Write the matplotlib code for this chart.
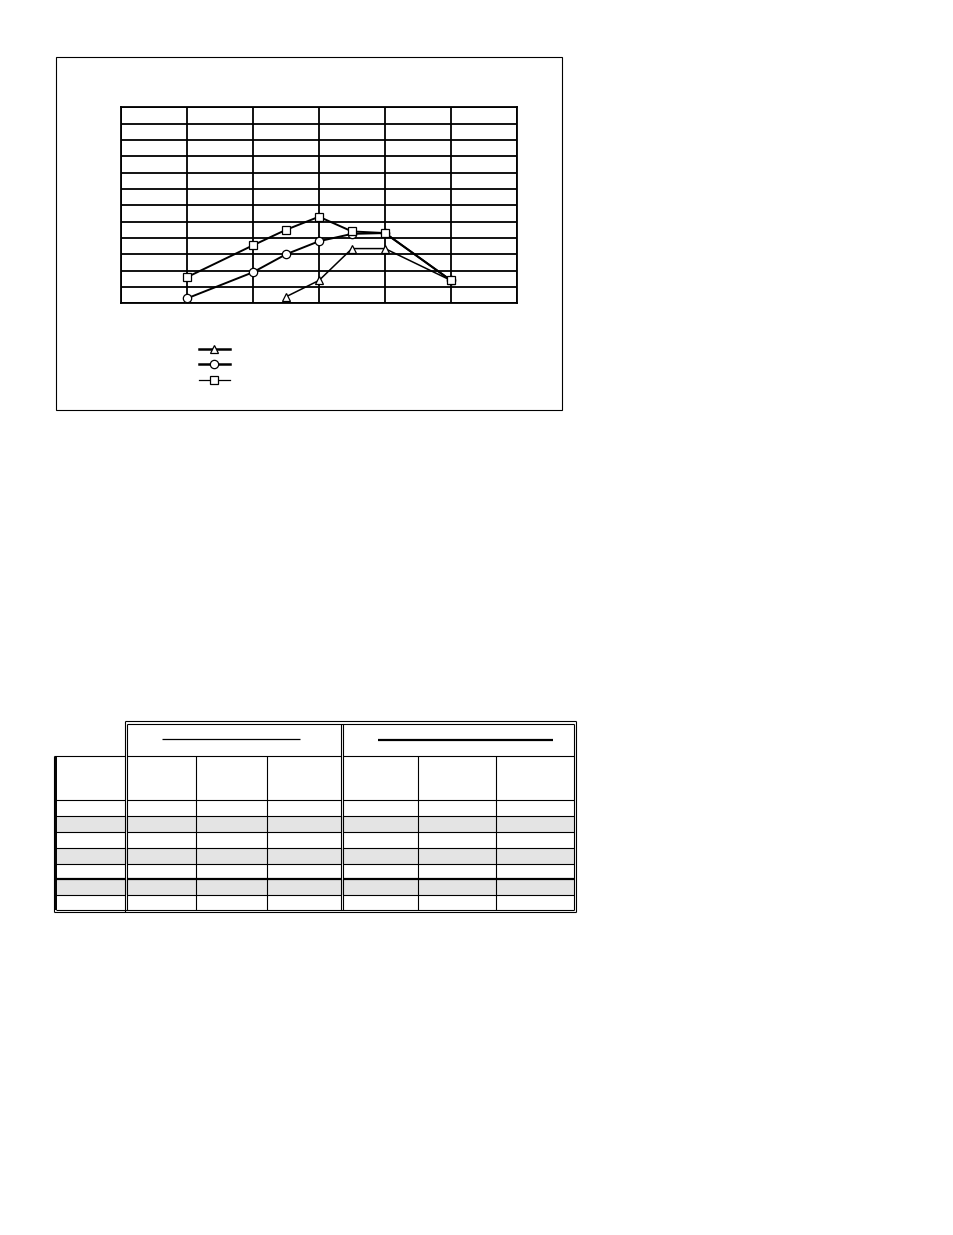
import numpy as np
import matplotlib
matplotlib.use('Agg')
from matplotlib import pyplot as plt
from matplotlib.lines import Line2D

# chart values (no labels in the reference)
x_sq = [1, 2, 2.5, 3, 3.5, 4, 5]
y_sq = [1.6, 3.55, 4.5, 5.3, 4.4, 4.3, 1.4]
x_ci = [1, 2, 2.5, 3, 3.5, 4, 5]
y_ci = [0.3, 1.9, 3.0, 3.8, 4.25, 4.3, 1.4]
x_tr = [2.5, 3, 3.5, 4, 5]
y_tr = [0.4, 1.4, 3.35, 3.35, 1.4]

W, H = 954, 1235
fig = plt.figure(figsize=(W / 100, H / 100), dpi=100)

# overlay in pixel coords for the boxes and the empty table
ov = fig.add_axes([0, 0, 1, 1])
ov.set_xlim(0, W)
ov.set_ylim(H, 0)
ov.axis('off')

def hl(y, x0, x1, lw=0.8):
  ov.plot([x0, x1], [y, y], color='black', lw=lw, solid_capstyle='butt')

def vl(x, y0, y1, lw=0.8):
  ov.plot([x, x], [y0, y1], color='black', lw=lw, solid_capstyle='butt')

# chart frame
ov.add_patch(plt.Rectangle((56.5, 56.5), 506, 353, fill=False, lw=0.8, ec='black'))

# ---- table ----
row_y = [800, 816, 831.5, 847.5, 863.5, 879, 895]
col_x = [196, 267.5, 418.5, 496]
shaded = [(816, 831.5), (847.5, 863.5), (879, 895)]

for y0, y1 in shaded:
  ov.add_patch(plt.Rectangle((57, y0), 517, y1 - y0, color='#e4e4e4', lw=0))

# double borders
hl(721, 125, 576.5)
hl(723.5, 127.5, 574.5)
hl(909.5, 56.5, 574.5)
hl(911.8, 54.5, 576.5)
vl(54.5, 755.5, 911.8)
vl(56.5, 755.5, 909.5, lw=1.4)
vl(125.3, 721, 911.8)
vl(127.5, 723.5, 909.5)
vl(341, 723.5, 909.5)
vl(343.2, 723.5, 909.5)
vl(574.5, 723.5, 909.5)
vl(576.5, 721, 911.8)

# header lines
hl(755.5, 54.5, 125.3)
hl(755.5, 127.5, 341)
hl(755.5, 343.2, 574.5)
hl(739.3, 161.7, 300, lw=0.9)
hl(739.5, 377.7, 553.3, lw=1.6)

for i, y in enumerate(row_y):
  lw = 1.6 if y == 879 else 0.8
  hl(y, 56.5, 125.3, lw)
  hl(y, 127.5, 341, lw)
  hl(y, 343.2, 574.5, lw)

for x in col_x:
  vl(x, 755.5, 909.5)

# ---- chart ----
ax = fig.add_axes([121 / W, 1 - 303.3 / H, 396 / W, 196 / H])
ax.set_xlim(0, 6)
ax.set_ylim(0, 12)
ax.set_xticks(range(7))
ax.set_yticks(range(13))
ax.tick_params(length=0, labelbottom=False, labelleft=False)
ax.grid(True, color='black', lw=1.3)
for s in ax.spines.values():
  s.set_linewidth(1.3)

mk = dict(color='black', mfc='white', mec='black', mew=0.9, ms=6, clip_on=False)
ax.plot(x_tr, y_tr, marker='^', lw=1.1, zorder=3, **mk)
ax.plot(x_ci, y_ci, marker='o', lw=1.4, zorder=4, **mk)
ax.plot(x_sq, y_sq, marker='s', lw=1.4, zorder=5, **mk)

lmk = {k: v for k, v in mk.items() if k != 'clip_on'}
handles = [
  Line2D([], [], marker='^', lw=1.8, **lmk),
  Line2D([], [], marker='o', lw=1.8, **lmk),
  Line2D([], [], marker='s', lw=0.9, **lmk),
]
ax.legend(handles, ['', '', ''], loc='upper left', bbox_to_anchor=(199 / W, 1 - 342.5 / H),
          bbox_transform=fig.transFigure, frameon=False, fontsize=10, handlelength=2.23,
          handletextpad=0, borderpad=0, borderaxespad=0, labelspacing=0.13)

fig.savefig('out.png', dpi=100)
